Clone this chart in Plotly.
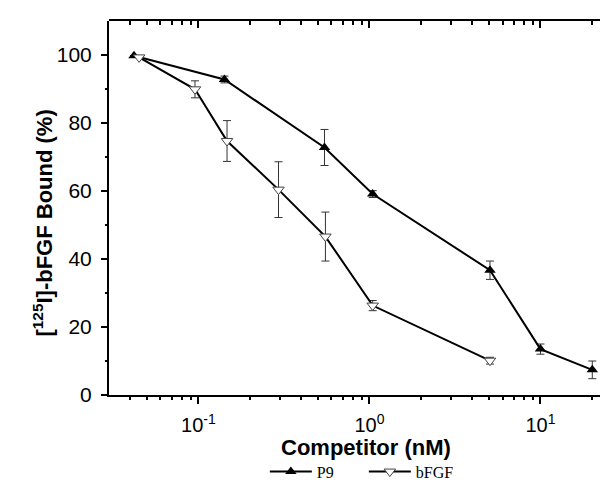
import math
import plotly.graph_objects as go

# ---- data ----
p9_x = [0.042, 0.142, 0.546, 1.045, 5.07, 10.0, 20.1]
p9_y = [99.8, 92.8, 72.8, 59.1, 36.7, 13.5, 7.4]
p9_err = [0.0, 1.0, 5.3, 1.0, 2.7, 1.5, 2.6]

bfgf_x = [0.045, 0.0955, 0.147, 0.294, 0.553, 1.045, 5.07]
bfgf_y = [99.3, 89.9, 74.7, 60.4, 46.6, 26.3, 10.1]
bfgf_err = [0.0, 2.5, 6.0, 8.2, 7.2, 1.5, 1.0]

x_tickvals = [0.1, 1, 10]
x_ticktext = ["10<sup>-1</sup>", "10<sup>0</sup>", "10<sup>1</sup>"]
x_minorvals = [0.04, 0.05, 0.06, 0.07, 0.08, 0.09,
               0.2, 0.3, 0.4, 0.5, 0.6, 0.7, 0.8, 0.9,
               2, 3, 4, 5, 6, 7, 8, 9, 20]
y_tickvals = [0, 20, 40, 60, 80, 100]
y_minorvals = [10, 30, 50, 70, 90]

x_range = [math.log10(0.03), 1.436]
y_range = [0, 110]

sans = "Liberation Sans, Arial, sans-serif"
serif = "Liberation Serif, Times New Roman, serif"

fig = go.Figure()
fig.add_trace(go.Scatter(
    x=p9_x, y=p9_y, name="P9", mode="lines+markers",
    line=dict(color="black", width=2),
    marker=dict(symbol="triangle-up", size=10, color="black"),
    error_y=dict(type="data", array=p9_err, color="#333333", thickness=1, width=4),
))
fig.add_trace(go.Scatter(
    x=bfgf_x, y=bfgf_y, name="bFGF", mode="lines+markers",
    line=dict(color="black", width=2),
    marker=dict(symbol="triangle-down", size=10, color="white",
                line=dict(color="#444444", width=1)),
    error_y=dict(type="data", array=bfgf_err, color="#333333", thickness=1, width=4),
))
# invisible traces on stacked (same-domain) subplots that carry the extra ticks
for xa, ya in [("x2", "y2"), ("x3", "y3"), ("x4", "y4")]:
    fig.add_trace(go.Scatter(
        x=p9_x, y=p9_y, xaxis=xa, yaxis=ya, mode="markers",
        marker=dict(opacity=0), showlegend=False, hoverinfo="skip",
    ))

common = dict(showgrid=False, zeroline=False, tickcolor="black", tickwidth=1.5)
logx = dict(type="log", range=x_range, tickmode="array")
liny = dict(range=y_range, tickmode="array")

fig.update_layout(
    width=608, height=482,
    margin=dict(l=101, r=1, t=13, b=90),
    paper_bgcolor="white", plot_bgcolor="rgba(0,0,0,0)",
    font=dict(family=sans, color="black"),
    showlegend=True,
    legend=dict(orientation="h", x=0.308, y=-0.205, xanchor="left", yanchor="middle",
                font=dict(family=serif, size=16, color="black"),
                bgcolor="rgba(0,0,0,0)", itemwidth=42, entrywidth=42),
    # main bottom axis: major ticks + labels
    xaxis=dict(anchor="y", tickvals=x_tickvals, ticktext=x_ticktext,
               ticks="outside", ticklen=7, showline=True, linewidth=2,
               linecolor="black", ticklabelstandoff=4,
               tickfont=dict(size=20, family=sans), **logx, **common),
    yaxis=dict(anchor="x", tickvals=y_tickvals, ticks="outside", ticklen=6,
               showline=True, linewidth=2, linecolor="black",
               ticklabelstandoff=5, tickfont=dict(size=21, family=sans),
               **liny, **common),
    # bottom / left minor ticks
    xaxis2=dict(anchor="y2", side="bottom", tickvals=x_minorvals,
                showticklabels=False, ticks="outside", ticklen=4, showline=False,
                **logx, **common),
    yaxis2=dict(anchor="x2", side="left", tickvals=y_minorvals,
                showticklabels=False, ticks="outside", ticklen=3, showline=False,
                **liny, **common),
    # top axis line with inward major ticks, right side inward ticks
    xaxis3=dict(anchor="y3", side="top", tickvals=x_tickvals,
                showticklabels=False, ticks="inside", ticklen=7, showline=True,
                linewidth=2, linecolor="black", **logx, **common),
    yaxis3=dict(anchor="x3", side="right", tickvals=y_tickvals[1:],
                showticklabels=False, ticks="inside", ticklen=3, showline=False,
                range=y_range, tickmode="array", showgrid=False, zeroline=False,
                tickcolor="#555555", tickwidth=1.5),
    # top minor ticks (inward)
    xaxis4=dict(anchor="y4", side="top", tickvals=x_minorvals,
                showticklabels=False, ticks="inside", ticklen=4, showline=False,
                **logx, **common),
    yaxis4=dict(anchor="x4", showticklabels=False, ticks="", showline=False,
                **liny, showgrid=False, zeroline=False),
    annotations=[
        dict(text="<b>Competitor (nM)</b>", xref="paper", yref="paper",
             x=0.508, y=-0.14, xanchor="center", yanchor="middle", showarrow=False,
             font=dict(size=22, family=sans, color="black")),
        dict(text="<b>[<sup>125</sup>I]-bFGF Bound (%)</b>", xref="paper", yref="paper",
             x=-0.13, y=0.459, xanchor="center", yanchor="middle", showarrow=False,
             textangle=-90, font=dict(size=22, family=sans, color="black")),
    ],
)

fig.write_html("out.html")
